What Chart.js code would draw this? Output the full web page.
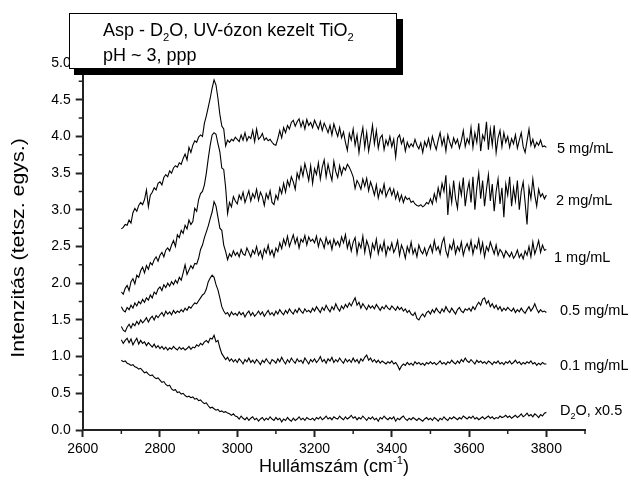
<!DOCTYPE html>
<html>
<head>
<meta charset="utf-8">
<script src="https://cdn.jsdelivr.net/npm/chart.js@4.4.1/dist/chart.umd.min.js"></script>
<style>
  body { margin: 0; background: #fff; }
  #wrap { width: 631px; height: 489px; }
</style>
</head>
<body>
<div id="wrap"><canvas id="spectraChart" width="631" height="489"></canvas></div>
<script>
// wavenumber grid, 2700..3800 cm-1 every 5
var wavenumbers = [];
for (var w = 2700; w <= 3800; w += 5) wavenumbers.push(w);

var xTicks = [2600, 2800, 3000, 3200, 3400, 3600, 3800];
var yTicks = [0, 0.5, 1, 1.5, 2, 2.5, 3, 3.5, 4, 4.5, 5];

// 5 mg/mL
var conc5 = [
  2.74, 2.76, 2.80, 2.79, 2.86, 2.82, 2.96, 3.02, 2.98, 3.06, 3.10, 3.07, 3.14, 3.27, 3.04, 3.20, 3.24, 3.30, 3.27, 3.36,
  3.38, 3.34, 3.44, 3.48, 3.45, 3.53, 3.50, 3.57, 3.60, 3.58, 3.64, 3.62, 3.70, 3.76, 3.68, 3.85, 3.78, 3.88, 3.94, 3.92,
  3.99, 4.02, 4.00, 4.18, 4.28, 4.40, 4.52, 4.66, 4.77, 4.70, 4.52, 4.30, 4.14, 4.10, 3.87, 3.95, 3.92, 3.96, 3.94, 3.99,
  3.96, 3.93, 4.02, 3.95, 4.05, 3.94, 4.00, 3.97, 4.08, 3.93, 4.10, 3.96, 3.99, 4.04, 3.95, 3.98, 3.94, 3.96, 3.92, 3.89,
  3.88, 3.97, 4.08, 3.98, 4.12, 4.05, 4.15, 4.10, 4.19, 4.22, 4.14, 4.20, 4.24, 4.13, 4.21, 4.10, 4.23, 4.15, 4.19, 4.12,
  4.22, 4.16, 4.10, 4.20, 4.08, 4.18, 4.12, 4.05, 4.15, 4.02, 4.17, 4.08, 4.00, 4.12, 3.98, 4.06, 3.92, 3.81, 4.04, 3.95,
  4.10, 3.88, 4.02, 3.78, 3.98, 4.12, 3.85, 4.05, 3.80, 3.96, 4.15, 3.90, 4.08, 3.84, 3.98, 4.02, 3.82, 3.95, 3.88, 4.00,
  3.86, 3.96, 3.72, 3.98, 4.02, 3.90, 3.97, 3.80, 3.92, 3.85, 3.90, 3.86, 3.96, 3.88, 3.83, 3.91, 3.78, 3.93, 3.86, 3.97,
  3.84, 4.00, 3.90, 3.82, 3.95, 4.05, 3.88, 3.98, 3.80, 4.02, 3.92, 3.85, 3.98, 3.90, 3.96, 3.84, 3.94, 4.08, 3.86, 3.97,
  3.90, 4.12, 3.85, 4.05, 3.92, 4.18, 3.80, 4.02, 3.95, 4.20, 3.82, 4.10, 3.88, 4.15, 3.78, 3.98, 4.08, 3.86, 4.05, 3.92,
  4.00, 3.85, 3.97, 3.90, 4.02, 3.84, 3.95, 4.05, 3.86, 3.78, 3.94, 4.10, 3.88, 3.96, 3.85, 3.92, 3.88, 3.95, 3.86, 3.87,
  3.85
];

// 2 mg/mL
var conc2 = [
  1.88, 1.85, 1.93, 1.97, 1.90, 2.02, 2.06, 1.99, 2.11, 2.08, 2.17, 2.22, 2.14, 2.24, 2.19, 2.28, 2.25, 2.32, 2.36, 2.30,
  2.38, 2.42, 2.36, 2.45, 2.48, 2.44, 2.52, 2.58, 2.50, 2.66, 2.62, 2.72, 2.68, 2.79, 2.74, 2.86, 2.80, 2.84, 3.02, 2.98,
  3.14, 3.22, 3.25, 3.34, 3.50, 3.70, 3.88, 4.02, 4.05, 4.03, 3.90, 3.79, 3.57, 3.55, 3.30, 2.95, 3.10, 3.04, 3.18, 3.12,
  3.08, 3.20, 3.14, 3.24, 3.10, 3.18, 3.26, 3.12, 3.22, 3.16, 3.28, 3.13, 3.24, 3.18, 3.06, 3.22, 3.15, 3.26, 3.10, 3.07,
  3.20, 3.14, 3.30, 3.22, 3.36, 3.24, 3.40, 3.32, 3.45, 3.38, 3.28, 3.50, 3.42, 3.58, 3.46, 3.63, 3.52, 3.40, 3.60, 3.36,
  3.56, 3.48, 3.64, 3.42, 3.58, 3.68, 3.45, 3.62, 3.50, 3.40, 3.66, 3.52, 3.44, 3.60, 3.48, 3.58, 3.54, 3.62, 3.58, 3.52,
  3.45, 3.29, 3.40, 3.35, 3.28, 3.42, 3.32, 3.43, 3.26, 3.38, 3.30, 3.20, 3.34, 3.16, 3.28, 3.22, 3.35, 3.18, 3.25, 3.30,
  3.20, 3.28, 3.15, 3.24, 3.12, 3.20, 3.10, 3.18, 3.14, 3.16, 3.10, 3.12, 3.08, 3.06, 3.05, 3.07, 3.04, 3.06, 3.10, 3.08,
  3.15, 3.08, 3.22, 3.12, 3.30, 3.18, 3.36, 3.25, 3.47, 2.93, 3.30, 3.10, 3.40, 3.15, 3.02, 3.35, 3.20, 3.44, 3.05, 3.25,
  3.38, 3.10, 3.45, 3.00, 3.30, 3.50, 3.15, 3.40, 3.05, 3.28, 3.48, 3.12, 3.35, 2.98, 3.25, 3.42, 3.08, 3.30, 2.90, 3.35,
  3.20, 3.45, 3.05, 3.30, 3.12, 3.40, 3.00, 3.25, 3.38, 3.10, 2.80, 3.30, 3.15, 3.42, 3.20, 3.05, 3.28, 3.18, 3.22, 3.15,
  3.20
];

// 1 mg/mL
var conc1 = [
  1.68, 1.63, 1.61, 1.67, 1.64, 1.70, 1.66, 1.73, 1.69, 1.75, 1.72, 1.78, 1.74, 1.80, 1.77, 1.84, 1.80, 1.88, 1.85, 1.92,
  1.95, 1.90, 1.98, 1.94, 2.00, 1.96, 2.02, 1.98, 2.04, 2.00, 2.08, 2.04, 2.14, 2.25, 2.12, 2.18, 2.24, 2.20, 2.27, 2.26,
  2.34, 2.46, 2.52, 2.62, 2.70, 2.78, 2.88, 2.97, 3.11, 3.05, 2.90, 2.75, 2.72, 2.52, 2.43, 2.32, 2.40, 2.36, 2.44, 2.38,
  2.42, 2.36, 2.46, 2.40, 2.38, 2.48, 2.42, 2.36, 2.45, 2.40, 2.50, 2.38, 2.44, 2.34, 2.47, 2.41, 2.52, 2.39, 2.45, 2.36,
  2.48, 2.43, 2.55, 2.47, 2.60, 2.52, 2.64, 2.50, 2.58, 2.66, 2.54, 2.62, 2.48, 2.60, 2.56, 2.65, 2.52, 2.63, 2.57, 2.60,
  2.55, 2.64, 2.50, 2.61, 2.56, 2.48, 2.62, 2.53, 2.58, 2.46, 2.60, 2.52, 2.57, 2.50, 2.63, 2.55, 2.66, 2.48, 2.58, 2.44,
  2.56, 2.62, 2.40, 2.55, 2.48, 2.64, 2.42, 2.58, 2.50, 2.36, 2.54, 2.46, 2.60, 2.40, 2.52, 2.44, 2.57, 2.38, 2.50, 2.45,
  2.55, 2.42, 2.48, 2.58, 2.38, 2.52, 2.45, 2.34, 2.50, 2.42, 2.56, 2.40, 2.47, 2.36, 2.52, 2.44, 2.40, 2.48, 2.38, 2.46,
  2.52, 2.42, 2.58, 2.45, 2.50, 2.40, 2.55, 2.62, 2.44, 2.36, 2.52, 2.46, 2.58, 2.40, 2.50, 2.44, 2.56, 2.38, 2.48, 2.54,
  2.45, 2.58, 2.40, 2.52, 2.47, 2.60, 2.42, 2.55, 2.36, 2.50, 2.44, 2.56, 2.48, 2.40, 2.52, 2.38, 2.46, 2.42, 2.35, 2.44,
  2.40, 2.36, 2.42, 2.34, 2.38, 2.45, 2.35, 2.40, 2.33, 2.44, 2.38, 2.50, 2.36, 2.56, 2.40, 2.48, 2.58, 2.42, 2.52, 2.45,
  2.46
];

// 0.5 mg/mL
var conc05 = [
  1.41, 1.36, 1.34, 1.40, 1.44, 1.39, 1.45, 1.42, 1.48, 1.44, 1.50, 1.46, 1.49, 1.53, 1.47, 1.52, 1.55, 1.50, 1.56, 1.53,
  1.57, 1.60, 1.55, 1.62, 1.58, 1.61, 1.57, 1.63, 1.59, 1.62, 1.60, 1.64, 1.61, 1.66, 1.63, 1.68, 1.66, 1.70, 1.73, 1.72,
  1.76, 1.80, 1.84, 1.86, 1.92, 2.02, 2.07, 2.11, 2.08, 1.98, 1.91, 1.80, 1.68, 1.62, 1.58, 1.60, 1.55, 1.61, 1.57, 1.59,
  1.56, 1.61, 1.57, 1.60, 1.54, 1.59, 1.62, 1.56, 1.60, 1.55, 1.58, 1.62, 1.57, 1.61, 1.55, 1.59, 1.63, 1.57, 1.60, 1.56,
  1.62, 1.58, 1.64, 1.60, 1.57, 1.63, 1.59, 1.65, 1.61, 1.58, 1.64, 1.60, 1.66, 1.62, 1.59, 1.65, 1.61, 1.63, 1.60, 1.66,
  1.62, 1.68, 1.64, 1.60, 1.67, 1.63, 1.70, 1.65, 1.61, 1.68, 1.64, 1.72, 1.66, 1.62, 1.69, 1.65, 1.71, 1.67, 1.73, 1.69,
  1.75, 1.80, 1.70, 1.74, 1.66, 1.72, 1.68, 1.64, 1.70, 1.66, 1.69, 1.65, 1.71, 1.67, 1.63, 1.68, 1.65, 1.70, 1.66, 1.64,
  1.69, 1.66, 1.63, 1.68, 1.64, 1.67, 1.62, 1.65, 1.60, 1.63, 1.58, 1.56, 1.60, 1.52, 1.50, 1.55, 1.58, 1.54, 1.60, 1.62,
  1.58, 1.64, 1.60, 1.66, 1.62, 1.59, 1.65, 1.61, 1.68, 1.63, 1.60, 1.66, 1.62, 1.58, 1.64, 1.67, 1.62, 1.60, 1.65, 1.63,
  1.66, 1.62, 1.68, 1.64, 1.70, 1.74, 1.70, 1.78, 1.80, 1.72, 1.76, 1.68, 1.72, 1.66, 1.70, 1.64, 1.68, 1.62, 1.66, 1.63,
  1.67, 1.64, 1.62, 1.66, 1.60, 1.64, 1.61, 1.66, 1.62, 1.59, 1.64, 1.68, 1.62, 1.66, 1.72, 1.65, 1.60, 1.64, 1.61, 1.62,
  1.60
];

// 0.1 mg/mL
var conc01 = [
  1.23, 1.18, 1.22, 1.25, 1.19, 1.24, 1.16, 1.21, 1.25, 1.17, 1.22, 1.18, 1.20, 1.15, 1.19, 1.16, 1.13, 1.17, 1.12, 1.15,
  1.11, 1.14, 1.10, 1.13, 1.09, 1.12, 1.10, 1.14, 1.11, 1.09, 1.13, 1.10, 1.12, 1.09, 1.11, 1.14, 1.10, 1.13, 1.12, 1.16,
  1.14, 1.18, 1.16, 1.20, 1.22, 1.19, 1.25, 1.24, 1.29, 1.20, 1.22, 1.12, 1.04, 1.00, 0.96, 0.99, 0.94, 0.97, 0.93, 0.96,
  0.92, 0.97, 0.94, 0.90, 0.96, 0.93, 0.98, 0.92, 0.95, 0.91, 0.96, 0.93, 0.89, 0.95, 0.92, 0.97, 0.93, 0.90, 0.96, 0.94,
  0.91, 0.97, 0.93, 0.99, 0.94, 0.90, 0.96, 0.92, 0.98, 0.94, 0.91, 0.97, 0.93, 0.95, 0.91, 0.98, 0.94, 0.90, 0.96, 0.93,
  0.97, 0.92, 0.95, 1.00, 0.93, 0.96, 0.91, 0.97, 0.94, 0.99, 0.92, 0.96, 0.93, 0.98, 0.94, 0.91, 0.97, 0.93, 0.96, 0.92,
  0.98, 0.93, 0.96, 0.91, 0.97, 0.94, 0.99, 1.02, 0.95, 0.98, 0.93, 0.96, 0.92, 0.95, 0.91, 0.94, 0.92, 0.90, 0.93, 0.91,
  0.94, 0.90, 0.92, 0.88, 0.82, 0.87, 0.90, 0.88, 0.92, 0.89, 0.91, 0.88, 0.93, 0.90, 0.92, 0.89, 0.91, 0.88, 0.92, 0.90,
  0.93, 0.90, 0.92, 0.89, 0.91, 0.94, 0.90, 0.92, 0.89, 0.93, 0.91, 0.95, 0.92, 0.90, 0.94, 0.91, 0.96, 0.93, 0.98, 0.94,
  0.92, 0.96, 0.93, 0.90, 0.95, 0.92, 0.94, 0.91, 0.93, 0.90, 0.94, 0.92, 0.89, 0.93, 0.91, 0.94, 0.90, 0.92, 0.89, 0.93,
  0.91, 0.94, 0.90, 0.92, 0.95, 0.91, 0.93, 0.89, 0.92, 0.90, 0.93, 0.91, 0.94, 0.90, 0.92, 0.88, 0.91, 0.89, 0.92, 0.90,
  0.90
];

// D2O, x0.5
var d2oHalf = [
  0.95, 0.93, 0.94, 0.91, 0.90, 0.88, 0.89, 0.86, 0.85, 0.83, 0.84, 0.81, 0.78, 0.79, 0.76, 0.74, 0.75, 0.72, 0.70, 0.71,
  0.68, 0.65, 0.66, 0.62, 0.60, 0.61, 0.56, 0.54, 0.55, 0.51, 0.52, 0.49, 0.50, 0.47, 0.45, 0.46, 0.44, 0.45, 0.42, 0.43,
  0.40, 0.41, 0.38, 0.36, 0.37, 0.33, 0.30, 0.31, 0.29, 0.27, 0.28, 0.25, 0.26, 0.24, 0.25, 0.23, 0.22, 0.20, 0.22, 0.19,
  0.18, 0.15, 0.19, 0.16, 0.14, 0.17, 0.13, 0.16, 0.18, 0.14, 0.16, 0.12, 0.15, 0.17, 0.13, 0.16, 0.14, 0.18, 0.15, 0.13,
  0.17, 0.14, 0.16, 0.11, 0.15, 0.13, 0.17, 0.14, 0.12, 0.16, 0.13, 0.15, 0.18, 0.14, 0.16, 0.13, 0.17, 0.15, 0.14, 0.16,
  0.13, 0.17, 0.15, 0.18, 0.14, 0.16, 0.19, 0.15, 0.17, 0.14, 0.18, 0.16, 0.15, 0.19, 0.16, 0.14, 0.18, 0.15, 0.17, 0.20,
  0.16, 0.18, 0.14, 0.17, 0.15, 0.19, 0.16, 0.13, 0.17, 0.15, 0.18, 0.14, 0.16, 0.12, 0.17, 0.15, 0.19, 0.16, 0.14, 0.17,
  0.15, 0.18, 0.12, 0.16, 0.14, 0.17, 0.19, 0.15, 0.13, 0.16, 0.14, 0.17, 0.15, 0.13, 0.16, 0.14, 0.12, 0.15, 0.17, 0.14,
  0.16, 0.13, 0.17, 0.15, 0.12, 0.16, 0.14, 0.18, 0.15, 0.13, 0.17, 0.15, 0.18, 0.16, 0.14, 0.17, 0.15, 0.19, 0.17, 0.15,
  0.18, 0.16, 0.19, 0.15, 0.17, 0.14, 0.16, 0.18, 0.15, 0.17, 0.19, 0.16, 0.18, 0.15, 0.17, 0.16, 0.19, 0.17, 0.18, 0.20,
  0.17, 0.19, 0.16, 0.18, 0.20, 0.17, 0.19, 0.22, 0.18, 0.20, 0.23, 0.19, 0.21, 0.18, 0.22, 0.20, 0.17, 0.21, 0.19, 0.23,
  0.24
];

var seriesValues = [conc5, conc2, conc1, conc05, conc01, d2oHalf];
// label text pieces, {t, sub} for subscripts
var seriesLabels = [
  [{ t: '5 mg/mL' }],
  [{ t: '2 mg/mL' }],
  [{ t: '1 mg/mL' }],
  [{ t: '0.5 mg/mL' }],
  [{ t: '0.1 mg/mL' }],
  [{ t: 'D' }, { t: '2', sub: true }, { t: 'O, x0.5' }]
];
var labelSpots = [[557, 148], [556, 200], [554, 257], [560, 310], [560, 365], [560, 410]];

var titleLine1 = [{ t: 'Asp - D' }, { t: '2', sub: true }, { t: 'O, UV-ózon kezelt TiO' }, { t: '2', sub: true }];
var titleLine2 = [{ t: 'pH ~ 3, ppp' }];
var xTitle = [{ t: 'Hullámszám (cm' }, { t: '-1', sup: true }, { t: ')' }];
var yTitle = [{ t: 'Intenzitás (tetsz. egys.)' }];

var axisColor = '#222';
var FONT = '"Liberation Sans", Arial, sans-serif';

function richWidth(ctx, parts, size) {
    var w = 0;
    parts.forEach(function (p) {
        ctx.font = ((p.sub || p.sup) ? size * 0.62 : size) + 'px ' + FONT;
        w += ctx.measureText(p.t).width;
    });
    return w;
}

function drawRich(ctx, parts, x, y, size, align) {
    var w = richWidth(ctx, parts, size);
    var cx = align === 'center' ? x - w / 2 : x;
    ctx.fillStyle = '#000';
    ctx.textAlign = 'left';
    ctx.textBaseline = 'alphabetic';
    parts.forEach(function (p) {
        var s = (p.sub || p.sup) ? size * 0.62 : size;
        var dy = p.sub ? size * 0.3 : (p.sup ? -size * 0.45 : 0);
        ctx.font = s + 'px ' + FONT;
        ctx.fillText(p.t, cx, y + dy);
        cx += ctx.measureText(p.t).width;
    });
}

var decorations = {
    id: 'decorations',
    afterDraw: function (chart) {
        var ctx = chart.ctx;
        var xs = chart.scales.x, ys = chart.scales.y;
        var area = chart.chartArea;
        ctx.save();

        // minor ticks
        ctx.strokeStyle = axisColor;
        ctx.lineWidth = 1.5;
        ctx.beginPath();
        for (var v = 2700; v <= 3900; v += 200) {
            var px = xs.getPixelForValue(v);
            ctx.moveTo(px, area.bottom);
            ctx.lineTo(px, area.bottom + 4);
        }
        for (var u = 0.25; u < 5.5; u += 0.5) {
            var py = ys.getPixelForValue(u);
            ctx.moveTo(area.left, py);
            ctx.lineTo(area.left - 4, py);
        }
        ctx.stroke();

        // series labels
        seriesLabels.forEach(function (parts, i) {
            drawRich(ctx, parts, labelSpots[i][0], labelSpots[i][1] + 5, 14.5, 'left');
        });

        // axis titles
        drawRich(ctx, xTitle, 334, 472, 18, 'center');
        ctx.save();
        ctx.translate(24, 248);
        ctx.rotate(-Math.PI / 2);
        ctx.scale(1.22, 1);
        drawRich(ctx, yTitle, 0, 0, 17.5, 'center');
        ctx.restore();

        // title box with shadow
        ctx.fillStyle = '#000';
        ctx.fillRect(74, 19, 329, 56);
        ctx.fillStyle = '#fff';
        ctx.fillRect(69, 13, 328, 56);
        ctx.strokeStyle = '#000';
        ctx.lineWidth = 1;
        ctx.strokeRect(69.5, 13.5, 327, 55);
        drawRich(ctx, titleLine1, 103, 36, 18, 'left');
        drawRich(ctx, titleLine2, 103, 61, 18, 'left');

        ctx.restore();
    }
};

var ctx = document.getElementById('spectraChart').getContext('2d');
var spectraChart = new Chart(ctx, {
    type: 'line',
    data: {
        datasets: seriesValues.map(function (vals) {
            return {
                data: vals.map(function (y, i) { return { x: wavenumbers[i], y: y }; }),
                borderColor: '#000',
                borderWidth: 1.1,
                pointRadius: 0,
                tension: 0,
                fill: false
            };
        })
    },
    options: {
        responsive: false,
        animation: false,
        devicePixelRatio: 1,
        layout: { padding: { top: 26.3, right: 46, left: 0, bottom: 0 } },
        plugins: { legend: { display: false }, tooltip: { enabled: false } },
        scales: {
            x: {
                type: 'linear',
                min: 2600,
                max: 3900,
                afterFit: function (scale) { scale.height = 59; },
                afterBuildTicks: function (scale) {
                    scale.ticks = xTicks.map(function (v) { return { value: v }; });
                },
                ticks: {
                    color: '#000',
                    padding: 4,
                    maxRotation: 0,
                    font: { family: FONT, size: 14 },
                    callback: function (v) { return String(v); }
                },
                grid: { drawOnChartArea: false, drawTicks: true, tickLength: 7, tickWidth: 2, tickColor: axisColor },
                border: { display: true, color: axisColor, width: 2 }
            },
            y: {
                min: 0,
                max: 5.5,
                afterFit: function (scale) { scale.width = 82.7; },
                afterBuildTicks: function (scale) {
                    scale.ticks = yTicks.map(function (v) { return { value: v }; });
                },
                ticks: {
                    color: '#000',
                    padding: 5,
                    font: { family: FONT, size: 14 },
                    callback: function (v) { return v.toFixed(1); }
                },
                grid: { drawOnChartArea: false, drawTicks: true, tickLength: 7, tickWidth: 2, tickColor: axisColor },
                border: { display: true, color: axisColor, width: 2 }
            }
        }
    },
    plugins: [decorations]
});
</script>
</body>
</html>
